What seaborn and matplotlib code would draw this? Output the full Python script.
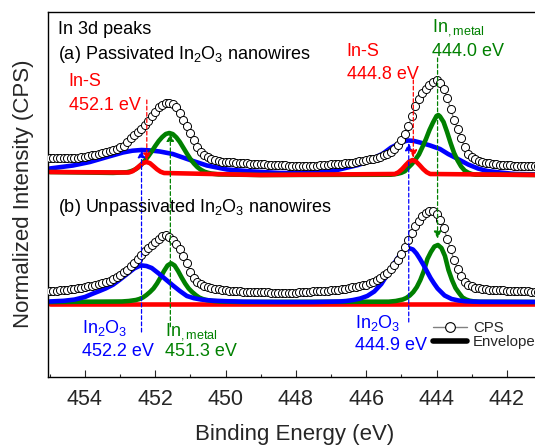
import numpy as np
import matplotlib
matplotlib.use("Agg")
import matplotlib.pyplot as plt
from matplotlib.lines import Line2D
import seaborn as sns

# ---------------- data ----------------
E_START, E_STOP, N_PTS = 455.0, 441.0, 141
energy = np.round(np.linspace(E_START, E_STOP, N_PTS), 1)

cps_a = [
    218.3, 218.4, 218.5, 218.6, 218.7, 218.8, 218.9, 219.0, 219.1, 219.3,
    220.1, 220.7, 221.4, 222.1, 223.0, 223.9, 224.7, 225.6, 226.3, 227.5,
    229.3, 231.1, 234.3, 238.3, 241.8, 244.8, 248.1, 251.6, 256.2, 261.1,
    265.1, 269.3, 271.6, 273.3, 273.9, 272.9, 270.0, 263.5, 257.2, 251.2,
    244.2, 236.4, 229.9, 225.2, 222.1, 219.4, 218.1, 216.9, 215.7, 215.0,
    214.7, 214.5, 214.3, 214.0, 213.7, 213.4, 213.3, 213.1, 212.9, 212.7,
    212.5, 212.3, 212.1, 212.0, 211.8, 211.7, 211.5, 211.3, 211.2, 211.0,
    210.9, 210.8, 210.7, 210.7, 210.8, 211.0, 211.2, 211.4, 211.7, 212.0,
    212.3, 212.5, 212.7, 212.8, 213.3, 213.8, 214.2, 214.7, 215.4, 216.2,
    217.0, 217.6, 218.2, 219.0, 220.2, 221.5, 223.1, 225.2, 227.9, 232.1,
    236.5, 243.2, 251.2, 260.7, 270.3, 278.2, 283.7, 287.9, 291.7, 295.2,
    296.4, 293.7, 287.7, 279.2, 268.2, 256.9, 248.2, 239.2, 229.5, 223.2,
    219.9, 217.5, 215.7, 214.7, 214.0, 213.4, 212.9, 212.5, 212.2, 211.9,
    211.6, 211.4, 211.2, 211.1, 211.0, 210.9, 210.8, 210.7, 210.7, 210.7,
    210.7]

cps_b = [
    85.7, 85.9, 86.1, 86.3, 86.5, 86.7, 87.3, 87.9, 88.5, 89.2,
    89.9, 90.4, 91.1, 92.0, 93.0, 93.9, 94.8, 95.9, 97.5, 99.5,
    102.2, 104.4, 107.2, 110.5, 113.7, 117.7, 121.7, 125.7, 129.2, 131.9,
    134.9, 138.2, 141.2, 141.5, 139.7, 137.2, 133.2, 127.7, 120.7, 113.7,
    104.7, 98.7, 95.2, 92.7, 90.7, 89.7, 88.9, 88.2, 87.5, 86.7,
    86.3, 86.0, 85.7, 85.5, 85.3, 85.1, 84.9, 84.8, 84.7, 84.6,
    84.5, 84.4, 84.3, 84.2, 84.1, 84.0, 84.0, 84.0, 84.1, 84.1,
    84.2, 84.4, 84.7, 84.9, 85.2, 85.4, 85.6, 85.8, 86.0, 86.2,
    86.4, 86.8, 87.2, 87.7, 88.2, 88.7, 89.3, 89.9, 90.7, 91.4,
    92.2, 93.4, 94.7, 96.7, 98.9, 101.5, 104.2, 108.2, 112.2, 116.7,
    123.2, 130.2, 136.7, 143.7, 150.7, 156.2, 160.7, 163.7, 165.7, 165.7,
    163.2, 157.2, 149.2, 138.2, 127.7, 116.7, 108.2, 100.7, 94.7, 91.9,
    90.4, 89.1, 88.4, 87.9, 87.5, 87.2, 86.9, 86.7, 86.5, 86.3,
    86.1, 85.9, 85.7, 85.6, 85.5, 85.4, 85.3, 85.2, 85.1, 85.0,
    85.0]

# (a) passivated: fitted components
blue_a_E = [455.0, 454.34, 453.86, 453.37, 452.92, 452.65, 452.39, 452.15, 451.87,
            451.5, 451.01, 450.53, 449.96, 449.22, 448.45, 447.88, 447.31, 446.94,
            446.71, 446.23, 445.98, 445.75, 445.52, 445.29, 445.12, 444.95, 444.81,
            444.65, 444.47, 444.18, 443.9, 443.67, 443.42, 443.1, 442.82, 442.56,
            442.19, 441.77, 441.0]
blue_a_I = [208.2, 211.2, 214.7, 219.7, 224.2, 226.0, 226.7, 226.3, 225.2,
            222.7, 216.7, 211.2, 207.2, 205.2, 203.7, 203.7, 204.7, 205.7,
            207.7, 211.7, 214.7, 219.2, 223.2, 229.2, 232.2, 235.0, 236.2,
            235.8, 234.2, 231.2, 227.7, 222.7, 218.2, 212.2, 208.2, 205.7,
            204.2, 202.7, 202.2]

red_a_E = [455.0, 452.75, 452.65, 452.55, 452.45, 452.35, 452.25, 452.15, 452.05,
           451.95, 451.85, 451.75, 449.0, 445.18, 445.08, 444.98, 444.88, 444.78,
           444.68, 444.58, 444.48, 444.38, 444.28, 444.18, 441.0]
red_a_I = [204.7, 204.2, 205.4, 207.7, 210.7, 213.6, 214.7, 213.5, 210.5,
           207.4, 205.0, 203.7, 201.7, 202.7, 204.5, 207.6, 211.5, 215.1,
           216.7, 215.1, 211.5, 207.6, 204.5, 202.7, 201.7]

green_a_E = [455.0, 453.2, 452.8, 452.7, 452.6, 452.5, 452.4, 452.3, 452.2, 452.1,
             452.0, 451.9, 451.8, 451.7, 451.6, 451.5, 451.4, 451.3, 451.2, 451.1,
             451.0, 450.9, 450.8, 450.7, 450.6, 450.5, 450.4, 450.2, 449.0,
             445.3, 445.2, 445.1, 445.0, 444.9, 444.8, 444.7, 444.6, 444.5, 444.4,
             444.3, 444.2, 444.1, 444.0, 443.95, 443.9, 443.8, 443.7, 443.6, 443.5,
             443.4, 443.3, 443.2, 443.1, 443.0, 442.9, 441.0]
green_a_I = [204.7, 203.8, 204.5, 205.4, 206.7, 208.8, 211.9, 215.9, 220.3, 225.3,
             230.7, 235.7, 239.7, 242.7, 243.7, 242.6, 239.3, 234.7, 228.9, 223.1,
             217.7, 213.2, 209.5, 206.9, 205.0, 203.9, 203.1, 202.3, 201.7,
             202.0, 202.4, 203.0, 203.9, 205.5, 209.2, 212.7, 217.2, 222.2, 229.7,
             237.7, 246.7, 254.2, 260.7, 261.7, 260.2, 254.7, 244.7, 233.7, 223.7,
             216.2, 210.2, 206.2, 204.0, 202.7, 202.1, 201.7]

# (b) unpassivated: fitted components
blue_b_E = [455.0, 454.6, 454.3, 454.0, 453.8, 453.6, 453.4, 453.2, 453.0, 452.8,
            452.6, 452.45, 452.37, 452.25, 452.1, 451.9, 451.7, 451.5, 451.3, 451.1,
            450.9, 450.7, 450.4, 450.0, 449.5, 448.5, 447.5,
            446.77, 446.57, 446.37, 446.17, 445.97, 445.77, 445.57, 445.47, 445.37,
            445.27, 445.17, 445.07, 444.97, 444.87, 444.77, 444.67, 444.57, 444.47,
            444.37, 444.27, 444.17, 444.07, 443.97, 443.77, 443.57, 443.37, 443.17,
            442.8, 441.0]
blue_b_I = [75.2, 75.9, 77.1, 79.7, 82.7, 85.5, 88.4, 92.0, 97.2, 102.7,
            108.2, 110.7, 111.2, 110.7, 108.7, 103.2, 97.2, 91.3, 85.7, 80.7,
            78.5, 77.2, 76.1, 75.5, 75.0, 74.7, 74.7,
            75.2, 75.7, 76.7, 78.2, 80.7, 85.2, 92.7, 98.2, 103.7,
            109.7, 115.2, 120.2, 124.7, 127.5, 128.4, 127.2, 123.2, 117.7,
            111.7, 105.2, 98.7, 93.2, 88.2, 81.2, 77.7, 76.2, 75.4,
            74.9, 74.7]

green_b_E = [455.0, 452.95, 452.75, 452.55, 452.45, 452.35, 452.25, 452.15, 452.05,
             451.95, 451.85, 451.75, 451.65, 451.55, 451.45, 451.35, 451.25, 451.15,
             451.05, 450.95, 450.85, 450.75, 450.65, 450.55, 450.35, 450.15, 449.5,
             445.36, 445.16, 444.96, 444.86, 444.76, 444.66, 444.56, 444.46, 444.36,
             444.26, 444.16, 444.06, 443.96, 443.86, 443.76, 443.66, 443.56, 443.46,
             443.36, 443.26, 443.16, 443.06, 442.96, 442.76, 441.0]
green_b_I = [74.7, 75.2, 75.7, 76.7, 77.7, 79.2, 81.7, 84.7, 88.2,
             93.2, 99.2, 105.7, 111.2, 113.4, 111.2, 105.7, 99.2, 93.2,
             88.2, 84.7, 81.7, 79.2, 77.7, 76.7, 75.7, 75.2, 74.7,
             75.0, 75.7, 77.2, 78.7, 81.2, 84.7, 89.7, 96.7, 105.7,
             117.7, 124.7, 130.2, 131.7, 128.7, 120.7, 106.7, 96.7, 88.7,
             83.7, 79.2, 77.2, 76.0, 75.4, 74.9, 74.7]

red_b_E = [455.0, 441.0]
red_b_I = [72.5, 72.5]

# x ticks
major_ticks = [454, 452, 450, 448, 446, 444, 442]
minor_ticks = [455, 453, 451, 449, 447, 445, 443, 441]

# guide lines: (energy, tail intensity, head intensity, colour)
guides = [
    (452.39, 44.7, 226.7, "#0000ff"),
    (451.57, 50.0, 243.0, "#008000"),
    (452.24, 276.7, 216.0, "#ff0000"),
    (444.79, 54.7, 233.7, "#0000ff"),
    (443.97, 318.7, 138.0, "#008000"),
    (444.66, 296.7, 219.0, "#ff0000"),
]

# annotations: (energy, intensity, text, colour)
labels = [
    (454.77, 342.2, "In 3d peaks", "black"),
    (454.77, 317.7, "(a) Passivated In$_2$O$_3$ nanowires", "black"),
    (454.77, 164.2, "(b) Unpassivated In$_2$O$_3$ nanowires", "black"),
    (454.46, 291.2, "In-S", "#ff0000"),
    (454.46, 266.7, "452.1 eV", "#ff0000"),
    (446.55, 320.7, "In-S", "#ff0000"),
    (446.55, 297.7, "444.8 eV", "#ff0000"),
    (444.13, 344.7, "In$_{,metal}$", "#008000"),
    (444.13, 320.7, "444.0 eV", "#008000"),
    (454.09, 43.7, "In$_2$O$_3$", "#0000ff"),
    (454.09, 20.2, "452.2 eV", "#0000ff"),
    (451.72, 40.7, "In$_{,metal}$", "#008000"),
    (451.72, 20.2, "451.3 eV", "#008000"),
    (446.32, 48.7, "In$_2$O$_3$", "#0000ff"),
    (446.32, 26.7, "444.9 eV", "#0000ff"),
]

# ---------------- style ----------------
sns.set_style("ticks")
plt.rcParams["font.family"] = ["Liberation Sans", "DejaVu Sans"]
plt.rcParams["mathtext.fontset"] = "custom"
plt.rcParams["mathtext.rm"] = "Liberation Sans"
plt.rcParams["mathtext.it"] = "Liberation Sans:italic"
plt.rcParams["mathtext.default"] = "regular"

BLUE, RED, GREEN = "#0000ff", "#ff0000", "#008000"
LW = 3.3

fig = plt.figure(figsize=(5.35, 4.47), dpi=100)
ax = fig.add_axes([48 / 535, (447 - 376.7) / 447, (542 - 48) / 535, (376.7 - 11.7) / 447])

# (a) components
sns.lineplot(x=blue_a_E, y=blue_a_I, ax=ax, color=BLUE, lw=LW, estimator=None, sort=False, zorder=2)
sns.lineplot(x=green_a_E, y=green_a_I, ax=ax, color=GREEN, lw=LW, estimator=None, sort=False, zorder=2.1)
sns.lineplot(x=red_a_E, y=red_a_I, ax=ax, color=RED, lw=LW, estimator=None, sort=False, zorder=2.2)
# (b) components
sns.lineplot(x=red_b_E, y=red_b_I, ax=ax, color=RED, lw=LW, estimator=None, sort=False, zorder=2)
sns.lineplot(x=green_b_E, y=green_b_I, ax=ax, color=GREEN, lw=LW, estimator=None, sort=False, zorder=2.1)
sns.lineplot(x=blue_b_E, y=blue_b_I, ax=ax, color=BLUE, lw=LW, estimator=None, sort=False, zorder=2.2)

# measured CPS
for cps in (cps_a, cps_b):
    sns.lineplot(x=energy, y=cps, ax=ax, color="#808080", lw=1.0, estimator=None, sort=False,
                 marker="o", markersize=5.8, markerfacecolor="white",
                 markeredgecolor="black", markeredgewidth=0.7, zorder=5)

# guide lines with arrow heads
for e, y0, y1, c in guides:
    ax.annotate("", xy=(e, y1), xytext=(e, y0),
                arrowprops=dict(arrowstyle="-|>,head_length=0.5,head_width=0.25", color=c,
                                lw=0.9, ls=(0, (3, 2)), shrinkA=0, shrinkB=0,
                                mutation_scale=9), zorder=6)

for e, y, s, c in labels:
    ax.text(e, y, s, color=c, fontsize=13, ha="left", va="baseline", zorder=7)

# legend
handles = [
    Line2D([], [], color="#808080", lw=1.0, marker="o", markersize=7.0,
           markerfacecolor="white", markeredgecolor="black", markeredgewidth=0.8),
    Line2D([], [], color="black", lw=4),
]
ax.legend(handles, ["CPS", "Envelope"], loc="upper left",
          bbox_to_anchor=(433 / 535, 1 - 321 / 447), bbox_transform=fig.transFigure,
          frameon=False, fontsize=10.8, handlelength=2.25, handletextpad=0.4,
          labelspacing=0.0, borderpad=0, borderaxespad=0)

ax.set_xlim(455.05, 441.0)
ax.set_ylim(0, 365)
ax.set_xticks(major_ticks)
ax.set_xticklabels([str(t) for t in major_ticks])
ax.set_xticks(minor_ticks, minor=True)
ax.tick_params(axis="x", which="major", direction="in", length=5, width=0.8,
               labelsize=15.5, pad=9, top=False)
ax.tick_params(axis="x", which="minor", direction="in", length=2.5, width=0.8, top=False)
ax.tick_params(axis="y", left=False, labelleft=False, right=False)
ax.set_yticks([])
for sp in ax.spines.values():
    sp.set_color("black")
    sp.set_linewidth(1.0)

ax.set_xlabel("Binding Energy (eV)", fontsize=16, labelpad=10)
ax.set_ylabel("Normalized Intensity (CPS)", fontsize=16, labelpad=10)

fig.savefig("out.png", dpi=100)
